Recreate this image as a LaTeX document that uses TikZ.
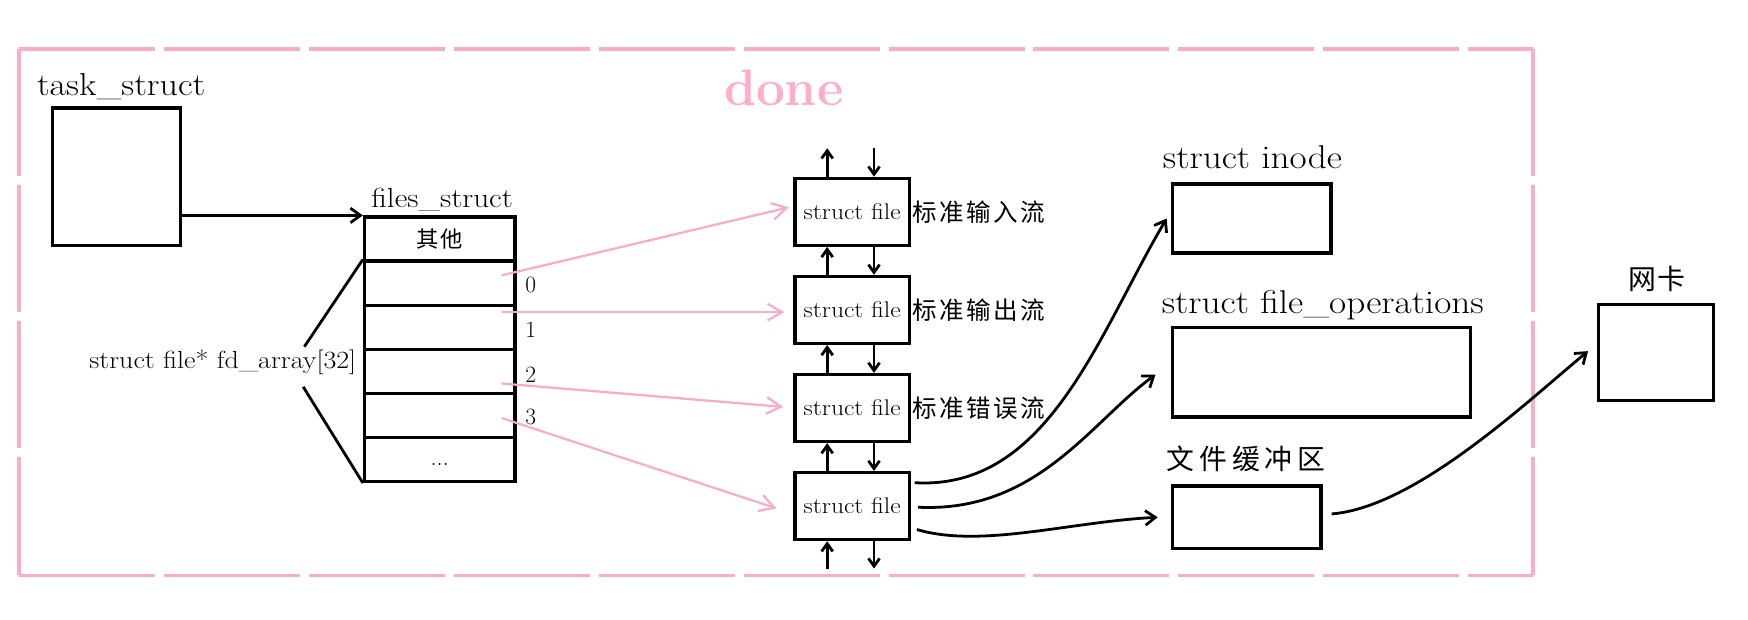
\documentclass[tikz,border=0pt]{standalone}
\usepackage{fontspec}
\newfontfamily\cjk{Noto Sans CJK SC}
\newfontfamily\widerm{Latin Modern Roman}[FakeStretch=1.13]
\usetikzlibrary{arrows.meta,calc}
\definecolor{pinkline}{RGB}{248,172,198}
\definecolor{pinktext}{RGB}{255,174,201}
\tikzset{
  box/.style={draw, line width=3pt, inner sep=0pt},
  rowbox/.style={box, minimum width=135pt, minimum height=39.5pt},
  filebox/.style={box, minimum width=103pt, minimum height=60pt, font=\widerm\fontsize{20.3}{22}\selectfont},
  blk/.style={line width=2.5pt, -{Straight Barb[length=9pt,width=13pt]}},
  vsmall/.style={line width=2.5pt, -{Straight Barb[length=7pt,width=10pt]}},
  pinkarrow/.style={line width=2pt, draw=pinkline, -{Straight Barb[length=13pt,width=15pt]}},
  hframe/.style={draw=pinkline, line width=3pt, dash pattern=on 122pt off 8pt},
  vframe/.style={draw=pinkline, line width=3pt, dash pattern=on 114pt off 8pt},
  cjklbl/.style={inner sep=0pt, font=\cjk\fontsize{22}{24}\selectfont\addfontfeature{LetterSpace=10}},
  numlbl/.style={inner sep=0pt, font=\fontsize{21}{23}\selectfont},
  txtlbl/.style={anchor=base west, inner sep=0pt},
}
\begin{document}
\begin{tikzpicture}[x=1pt,y=-1pt]
\useasboundingbox[fill=white] (0,0) rectangle (1568,556);
% frame
\draw[hframe] (17,44) -- (1375,44);
\draw[hframe] (17,516) -- (1375,516);
\draw[vframe] (17,44) -- (17,516);
\draw[vframe] (1375,44) -- (1375,516);
\node[anchor=base, inner sep=0pt, text=pinktext, font=\fontsize{46}{50}\selectfont\bfseries] (done) at (703,95) {done};

% task_struct
\node[txtlbl, font=\widerm\fontsize{28.5}{30}\selectfont] (tasklbl) at (33,86) {task\_struct};
\node[box, minimum width=115pt, minimum height=123pt] (task) at (104.5,158.5) {};

% files_struct
\node[txtlbl, font=\widerm\fontsize{24.7}{27}\selectfont] (fileslbl) at (333,186) {files\_struct};
\node[rowbox, font=\cjk\fontsize{20}{22}\selectfont\addfontfeature{LetterSpace=10}] (r0) at (394.5,214.5) {其他};
\node[rowbox] (r1) at (394.5,254) {};
\node[rowbox] (r2) at (394.5,293.5) {};
\node[rowbox] (r3) at (394.5,333) {};
\node[rowbox] (r4) at (394.5,372.5) {};
\node[rowbox] (r5) at (394.5,412) {};
\node[anchor=base, inner sep=0pt, font=\fontsize{22}{24}\selectfont] (dots) at (394.5,418) {...};
\draw[blk] (task.east |- r0.north west) -- (r0.north west);

% numbers
\node[numlbl] (n0) at (476,256) {0};
\node[numlbl] (n1) at (476,296) {1};
\node[numlbl] (n2) at (476,336) {2};
\node[numlbl] (n3) at (476,374) {3};

% fd_array label and brace lines
\node[txtlbl, font=\widerm\fontsize{22.2}{24}\selectfont] (fdlbl) at (80,331) {struct file* fd\_array[32]};
\coordinate (fdU) at (273,311);
\coordinate (fdL) at (272,347);
\draw[line width=2.5pt] (fdU) -- (r1.north west);
\draw[line width=2.5pt] (fdL) -- (r5.south west);

% struct file boxes
\node[filebox] (f1) at (764.5,190) {struct file};
\node[filebox] (f2) at (764.5,278) {struct file};
\node[filebox] (f3) at (764.5,366) {struct file};
\node[filebox] (f4) at (764.5,454) {struct file};
\node[cjklbl, anchor=west] (l1) at (818,190) {标准输入流};
\node[cjklbl, anchor=west] (l2) at (818,278) {标准输出流};
\node[cjklbl, anchor=west] (l3) at (818,366) {标准错误流};

% vertical links
\coordinate (topU) at (742,133);
\coordinate (topD) at (784,133);
\coordinate (botU) at (742,510);
\coordinate (botD) at (784,510);
\draw[vsmall] (f1.north -| topU) -- (topU);
\draw[vsmall] (topD) -- (f1.north -| topD);
\draw[vsmall] (f2.north -| topU) -- (f1.south -| topU);
\draw[vsmall] (f1.south -| topD) -- (f2.north -| topD);
\draw[vsmall] (f3.north -| topU) -- (f2.south -| topU);
\draw[vsmall] (f2.south -| topD) -- (f3.north -| topD);
\draw[vsmall] (f4.north -| topU) -- (f3.south -| topU);
\draw[vsmall] (f3.south -| topD) -- (f4.north -| topD);
\draw[vsmall] (botU) -- (f4.south -| botU);
\draw[vsmall] (f4.south -| botD) -- (botD);

% pink pointers
\coordinate (s0) at (450,247);
\coordinate (s1) at (450,280);
\coordinate (s2) at (450,344);
\coordinate (s3) at (450,375);
\draw[pinkarrow] (s0) -- ($(f1.west)+(-4,-4)$);
\draw[pinkarrow] (s1) -- ($(f2.west)+(-8,2)$);
\draw[pinkarrow] (s2) -- ($(f3.west)+(-9,-1)$);
\draw[pinkarrow] (s3) -- ($(f4.west)+(-15,2)$);

% right side structures
\node[txtlbl, font=\widerm\fontsize{29.6}{32}\selectfont] (inodelbl) at (1043,151) {struct inode};
\node[box, minimum width=142pt, minimum height=62pt] (inode) at (1123,196) {};
\node[txtlbl, font=\widerm\fontsize{29.6}{32}\selectfont] (fopslbl) at (1042,281) {struct file\_operations};
\node[box, minimum width=267pt, minimum height=80pt] (fops) at (1185.5,334) {};
\node[cjklbl, anchor=west, font=\cjk\fontsize{25}{27}\selectfont\addfontfeature{LetterSpace=18}] (buflbl) at (1046,412) {文件缓冲区};
\node[box, minimum width=133pt, minimum height=56pt] (buf) at (1118.5,464) {};
\node[cjklbl, font=\cjk\fontsize{25}{27}\selectfont\addfontfeature{LetterSpace=5}] (niclbl) at (1486,250) {网卡};
\node[box, minimum width=103pt, minimum height=86pt] (nic) at (1485.5,316) {};

% curves
\draw[blk] ($(f4.east)+(3,-21)$) .. controls (940,440) and (985,300) .. ($(inode.west)+(-4,0)$);
\draw[blk] ($(f4.east)+(6,1)$) .. controls (930,460) and (978,379) .. ($(fops.west)+(-14,2)$);
\draw[blk] ($(f4.east)+(5,21)$) .. controls (880,492) and (960,468) .. ($(buf.west)+(-12,0)$);
\draw[blk] ($(buf.east)+(8,-3)$) .. controls (1270,455) and (1370,360) .. ($(nic.west)+(-8,-1)$);
\end{tikzpicture}
\end{document}
